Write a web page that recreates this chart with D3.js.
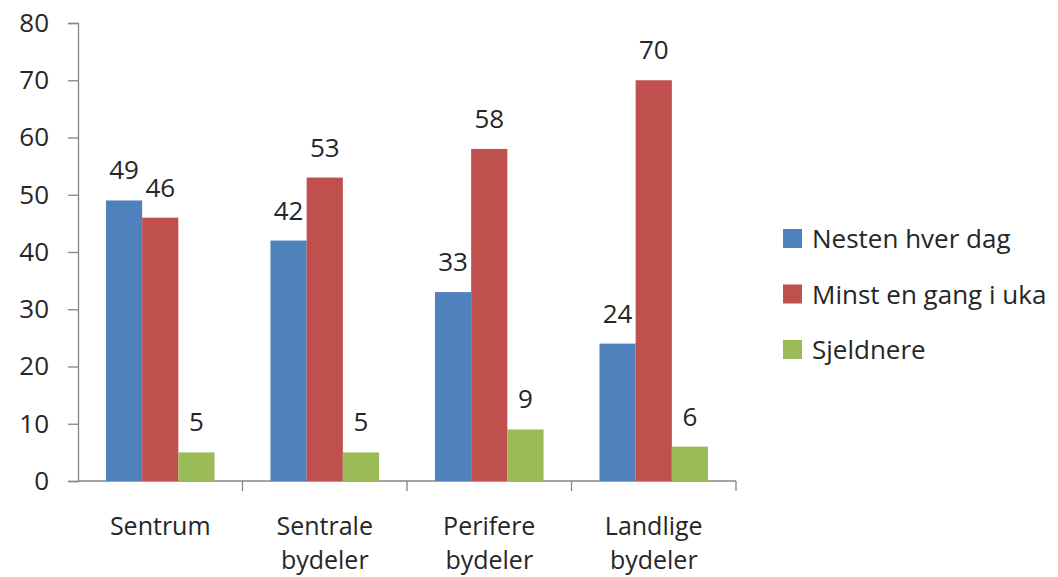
<!DOCTYPE html>
<html>
<head>
<meta charset="utf-8">
<script src="https://cdn.jsdelivr.net/npm/d3@7"></script>
<style>
  body { margin: 0; background: #fff; }
  text { font-family: "Open Sans", "Noto Sans", sans-serif; fill: #262626; }
</style>
</head>
<body>
<script>
//// Data ////
const categories = [["Sentrum"], ["Sentrale", "bydeler"], ["Perifere", "bydeler"], ["Landlige", "bydeler"]]
const seriesNames = ["Nesten hver dag", "Minst en gang i uka", "Sjeldnere"]
const nestenHverDag = [49, 42, 33, 24]
const minstEnGang = [46, 53, 58, 70]
const sjeldnere = [5, 5, 9, 6]
const yTicks = [0, 10, 20, 30, 40, 50, 60, 70, 80]
const colors = ["#4f81bd", "#c0504d", "#9bbb59"]

/// Drawing area ///
const WIDTH = 1058
const HEIGHT = 577
const plotLeft = 78, plotRight = 736, plotTop = 23, plotBottom = 481

const series = [nestenHverDag, minstEnGang, sjeldnere]

const svg = d3.select("body").append("svg")
    .attr("width", WIDTH)
    .attr("height", HEIGHT)

const x = d3.scaleBand()
    .domain(d3.range(categories.length))
    .range([plotLeft, plotRight])
    .paddingInner(0.34)
    .paddingOuter(0.17)

const xInner = d3.scaleBand()
    .domain(d3.range(series.length))
    .range([0, x.bandwidth()])

const y = d3.scaleLinear().domain([0, 80]).range([plotBottom, plotTop])

// y axis
const yAxis = svg.append("g")
    .attr("transform", `translate(${plotLeft},0)`)
    .call(d3.axisLeft(y).tickValues(yTicks).tickSize(10).tickPadding(19))
yAxis.selectAll("text").style("font-size", "26px").attr("fill", "#262626")
yAxis.selectAll("line, path").attr("stroke", "#868686").attr("stroke-width", 1.3)

// x axis with ticks between categories
const xAxis = svg.append("g").attr("transform", `translate(0,${plotBottom})`)
xAxis.append("line")
    .attr("x1", plotLeft).attr("x2", plotRight)
    .attr("stroke", "#868686").attr("stroke-width", 1.3)
const step = (plotRight - plotLeft) / categories.length
xAxis.selectAll(".tk").data(d3.range(1, categories.length + 1))
    .join("line")
    .attr("x1", d => plotLeft + d * step).attr("x2", d => plotLeft + d * step)
    .attr("y1", 0).attr("y2", 10)
    .attr("stroke", "#868686").attr("stroke-width", 1.3)

// bars
series.forEach((vals, s) => {
    const g = svg.append("g")
    g.selectAll("rect").data(vals).join("rect")
        .attr("x", (d, i) => x(i) + xInner(s))
        .attr("y", d => y(d))
        .attr("width", xInner.bandwidth())
        .attr("height", d => y(0) - y(d))
        .attr("fill", colors[s])
    g.selectAll("text").data(vals).join("text")
        .attr("x", (d, i) => x(i) + xInner(s) + xInner.bandwidth() / 2)
        .attr("y", d => y(d) - 21)
        .attr("text-anchor", "middle")
        .style("font-size", "26px")
        .text(d => d)
})

// category labels
categories.forEach((lines, i) => {
    const t = svg.append("text")
        .attr("x", x(i) + x.bandwidth() / 2)
        .attr("y", 535)
        .attr("text-anchor", "middle")
        .style("font-size", "25px")
    lines.forEach((l, k) => {
        t.append("tspan")
            .attr("x", x(i) + x.bandwidth() / 2)
            .attr("dy", k === 0 ? 0 : 34)
            .text(l)
    })
})

// legend
const legend = svg.append("g").attr("transform", "translate(783,229)")
seriesNames.forEach((name, i) => {
    legend.append("rect")
        .attr("x", 0).attr("y", i * 55.5)
        .attr("width", 19).attr("height", 19)
        .attr("fill", colors[i])
    legend.append("text")
        .attr("x", 29).attr("y", i * 55.5 + 19)
        .style("font-size", "26px")
        .text(name)
})
</script>
</body>
</html>
